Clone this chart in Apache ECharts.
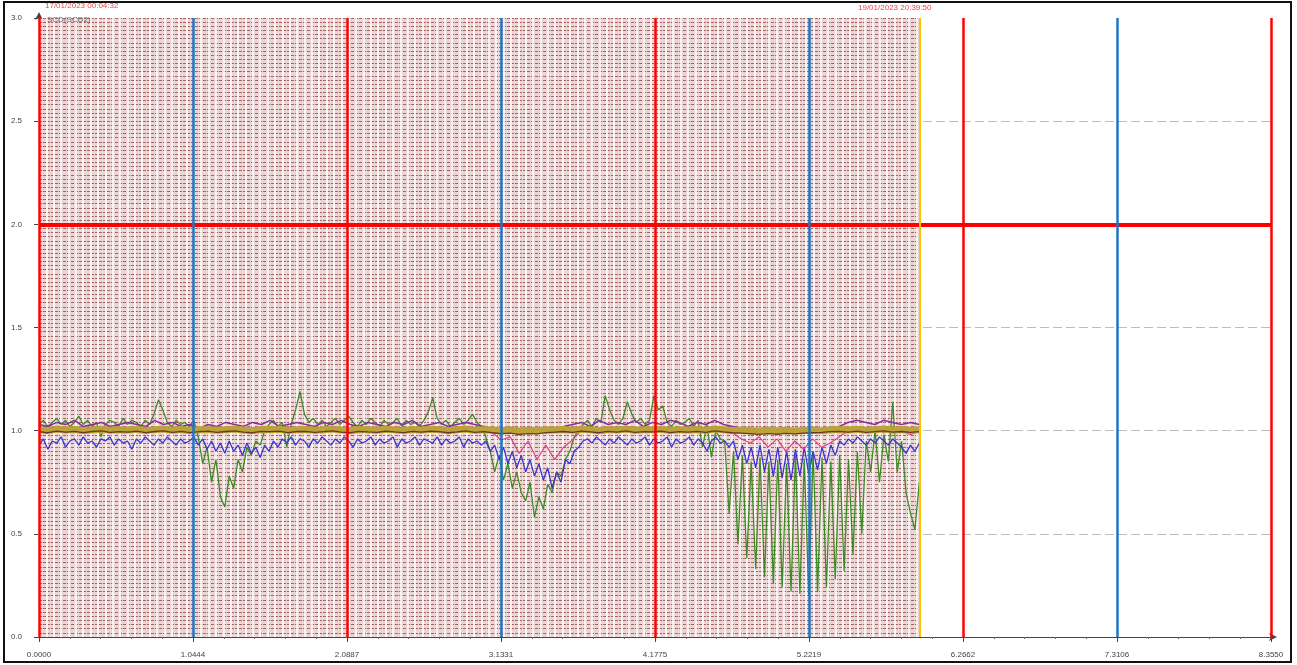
<!DOCTYPE html>
<html>
<head>
<meta charset="utf-8">
<script src="https://cdn.jsdelivr.net/npm/echarts@6/dist/echarts.min.js"></script>
<style>html,body{margin:0;padding:0;background:#fff;}#chart{width:1297px;height:665px;}</style>
</head>
<body>
<div id="chart"></div>
<script>
// ---------- data ----------
const xTickLabels = ['0.0000','1.0444','2.0887','3.1331','4.1775','5.2219','6.2662','7.3106','8.3550'];
const xMax = 8.355;
const yTickLabels = ['0.0','0.5','1.0','1.5','2.0','2.5','3.0'];
const redLinesX = [0, 2.0887, 4.1775, 6.2662, 8.355];
const blueLinesX = [1.0444, 3.1331, 5.2219, 7.3106];
const limitY = 2.0;
const shadeEnd = 5.973;
const startLabel = '17/01/2023 00:04:32';
const endLabel = '19/01/2023 20:39:50';
const traceLabel = 'SCD(SCD2)';

const fineStep = 0.03;     // sample spacing of green / blue traces
const coarseStep = 0.0603; // sample spacing of pink / purple / band traces

const greenVals = [
1.03,1.05,1.02,1.04,1.06,1.03,1.05,1.02,1.04,1.07,1.03,1.05,1.02,1.04,0.97,1.03,1.05,1.04,1.02,1.06,1.03,1.05,1.04,1.02,1.05,1.03,1.08,1.15,1.1,1.04,1.02,1.05,1.03,1.04,1.02,1.05,
0.97,0.84,0.92,0.75,0.86,0.68,0.63,0.78,0.72,0.86,0.8,0.92,0.88,0.95,0.93,1.0,
1.03,1.05,1.02,1.04,0.92,1.03,1.1,1.19,1.08,1.04,
1.06,1.03,1.05,1.02,1.04,1.06,1.03,1.05,1.07,1.04,
1.02,1.05,1.03,1.06,1.04,1.02,1.05,1.03,1.04,1.06,
1.02,1.05,1.03,1.04,1.02,1.05,1.09,1.16,1.06,1.03,
1.05,1.02,1.04,1.06,1.03,1.05,1.08,1.04,1.02,0.97,
0.9,0.8,0.88,0.76,0.84,0.72,0.8,0.7,0.66,0.75,0.58,0.68,0.62,0.74,0.7,0.8,0.78,0.86,0.9,0.97,1.0,
1.03,1.05,1.02,1.06,1.04,1.17,1.1,1.05,1.03,1.06,
1.14,1.08,1.04,1.06,1.03,1.05,1.17,1.1,1.12,1.04,
1.02,1.05,1.03,1.04,1.06,1.02,1.05,0.92,1.03,0.87,
1.0,0.96,
0.95,0.6,0.9,0.45,0.88,0.38,0.85,0.33,0.87,0.29,0.85,0.26,0.86,0.24,0.84,0.22,0.88,0.21,0.86,0.2,0.9,0.22,0.87,0.24,0.85,0.28,0.88,0.32,0.86,0.4,0.9,0.5,0.95,
0.8,1.0,0.75,0.98,0.85,1.14,0.8,0.95,0.7,0.6,0.52,0.75
];

const blueVals = [
0.93,0.96,0.91,0.95,0.94,0.97,0.92,0.95,0.96,0.93,0.97,0.94,0.95,0.92,0.96,0.95,0.97,0.93,0.96,0.94,0.95,0.91,0.96,0.94,0.97,0.95,0.93,0.96,0.94,0.97,0.95,0.93,0.96,0.94,0.95,0.97,
0.93,0.96,0.91,0.95,0.9,0.94,0.89,0.95,0.9,0.93,0.88,0.94,0.89,0.92,0.87,0.93,0.9,0.95,0.92,0.96,
0.94,0.97,0.93,0.96,0.95,0.92,0.96,0.94,0.97,0.95,0.93,0.96,0.94,0.97,0.95,0.92,0.96,0.94,0.95,0.97,0.93,0.96,0.94,0.95,0.97,0.92,0.96,0.94,0.95,0.97,0.93,0.96,0.95,0.94,0.97,0.93,0.96,0.94,0.95,0.97,0.92,0.96,0.94,0.95,
0.93,0.95,0.9,0.93,0.86,0.92,0.84,0.9,0.82,0.88,0.8,0.86,0.78,0.84,0.76,0.82,0.72,0.8,0.75,0.86,0.84,0.9,0.92,0.95,
0.96,0.94,0.97,0.95,0.93,0.96,0.94,0.97,0.95,0.93,0.96,0.94,0.95,0.97,0.93,0.96,0.94,0.95,0.97,0.92,0.96,0.94,0.95,0.97,0.93,0.96,0.94,0.9,0.95,0.97,0.94,
0.95,0.92,0.95,0.86,0.93,0.84,0.92,0.82,0.93,0.8,0.91,0.78,0.92,0.77,0.9,0.76,0.91,0.78,0.92,0.79,0.9,0.81,0.92,0.84,0.93,0.88,0.95,0.93,
0.96,0.94,0.97,0.95,0.93,0.96,0.94,0.97,0.95,0.93,0.96,0.94,0.92,0.89,0.93,0.9,0.94
];

const pinkVals = [
1.01,1.0,1.02,1.0,1.01,0.99,1.01,1.0,1.02,1.01,
1.0,1.01,0.99,1.01,1.0,1.02,1.0,1.01,0.99,1.0,
1.01,1.0,1.02,1.01,1.0,0.99,1.01,1.0,1.02,1.0,
1.01,0.99,1.0,1.02,1.01,1.0,1.01,0.99,1.0,1.02,
1.0,1.01,1.0,0.99,1.01,1.02,1.0,1.01,1.0,0.99,
1.0,0.99,0.955,0.97,0.89,0.95,0.86,0.93,0.86,0.92,0.955,1.0,
1.01,1.0,1.02,1.0,1.01,0.99,1.01,1.0,1.02,1.01,1.0,1.01,0.99,1.0,1.01,1.0,
0.99,0.96,0.94,0.97,0.92,0.96,0.9,0.95,0.91,0.96,0.92,0.94,0.97,1.0,
1.01,1.0,1.02,0.99,1.01,1.0,0.98,1.0
];

const purpleVals = [
1.03,1.02,1.04,1.03,1.05,1.02,1.03,1.04,1.02,1.03,
1.04,1.03,1.02,1.05,1.03,1.04,1.02,1.03,1.01,1.03,
1.02,1.04,1.03,1.02,1.04,1.03,1.05,1.02,1.03,1.04,
1.03,1.02,1.04,1.03,1.05,1.03,1.02,1.04,1.03,1.02,
1.04,1.03,1.05,1.02,1.03,1.04,1.02,1.03,1.04,1.03,
1.02,1.01,0.99,1.0,0.98,1.0,0.99,1.01,1.0,1.02,
1.03,1.04,1.02,1.05,1.03,1.04,1.03,1.05,1.02,1.04,
1.03,1.05,1.04,1.02,1.04,1.03,1.05,1.03,1.02,1.01,
1.0,0.99,1.01,0.98,1.0,0.99,1.01,0.99,1.0,1.01,
1.02,1.04,1.05,1.04,1.03,1.05,1.04,1.03,1.04,1.03
];

const oliveVals = [
1.005,1.0,1.008,1.003,1.006,1.0,1.004,1.007,1.002,1.005,
1.003,1.007,1.001,1.005,1.008,1.002,1.006,1.0,1.004,1.006,
1.002,1.005,1.008,1.003,1.0,1.006,1.004,1.007,1.001,1.005,
1.006,1.002,1.005,1.008,1.003,1.0,1.006,1.004,1.002,1.007,
1.004,1.001,1.006,1.003,1.007,1.005,1.0,1.004,1.008,1.002,
1.005,1.003,1.0,1.004,0.998,1.002,1.0,1.005,1.003,1.006,
1.002,1.007,1.004,1.0,1.006,1.003,1.008,1.002,1.005,1.004,
1.007,1.001,1.005,1.003,1.006,1.002,1.008,1.004,1.0,1.003,
1.001,0.999,1.003,1.0,1.002,0.998,1.001,1.003,1.0,1.004,
1.006,1.003,1.007,1.002,1.005,1.008,1.003,1.006,1.002,1.005
];

const brownVals = [
0.995,0.99,0.998,0.993,0.997,0.991,0.996,0.999,0.992,0.995,
0.993,0.998,0.99,0.996,0.999,0.992,0.997,0.991,0.995,0.998,
0.992,0.996,0.999,0.993,0.99,0.997,0.995,0.998,0.991,0.996,
0.997,0.992,0.995,0.999,0.993,0.99,0.997,0.994,0.992,0.998,
0.994,0.991,0.997,0.993,0.998,0.995,0.99,0.994,0.999,0.992,
0.995,0.99,0.985,0.988,0.982,0.986,0.984,0.99,0.993,0.996,
0.992,0.998,0.994,0.99,0.997,0.993,0.999,0.992,0.995,0.994,
0.998,0.991,0.995,0.993,0.997,0.992,0.999,0.994,0.99,0.988,
0.985,0.982,0.986,0.983,0.987,0.984,0.988,0.99,0.992,0.995,
0.997,0.993,0.998,0.992,0.995,0.999,0.993,0.996,0.992,0.995
];

// ---------- build ----------
function toPairs(vals, step) {
  return vals.map((v, i) => [+(i * step).toFixed(4), v]);
}
const xInterval = xMax / 8;
const font = 'Liberation Sans, Arial, sans-serif';
// keep reference lines strictly inside the axis extent so none is filtered away
const inX = x => Math.min(Math.max(x, 0.0005), xMax - 0.0005);
const vLine = (x, color, width) => [
  {coord: [inX(x), 0], lineStyle: {color, width, type: 'solid'}},
  {coord: [inX(x), 3]}
];

const chart = echarts.init(document.getElementById('chart'), null, {renderer: 'canvas'});

const lineSeries = (name, vals, step, color, width, z) => ({
  name, type: 'line', xAxisIndex: 0, yAxisIndex: 0,
  data: toPairs(vals, step), showSymbol: false, symbol: 'none',
  lineStyle: {color, width}, z: z, animation: false, silent: true
});

const option = {
  animation: false,
  backgroundColor: '#ffffff',
  grid: [
    {left: 39, right: 26, top: 18, bottom: 28, z: 0},
    {left: 39, top: 18, width: 881, height: 619, show: true, backgroundColor: '#ecd5d5', borderWidth: 0, z: 1}
  ],
  xAxis: [
    {
      type: 'value', gridIndex: 0, min: 0, max: xMax, interval: xInterval, z: 3,
      axisLine: {show: true, lineStyle: {color: '#444', width: 1}, symbol: ['none', 'arrow'], symbolSize: [6, 8], symbolOffset: [0, 6]},
      axisTick: {show: true, length: 5, lineStyle: {color: '#444'}},
      minorTick: {show: true, splitNumber: 5, length: 2, lineStyle: {color: '#666'}},
      axisLabel: {
        margin: 14, fontSize: 8, color: '#444', fontFamily: font,
        formatter: v => xTickLabels[Math.round(v / xInterval)] || ''
      },
      splitLine: {show: false}
    },
    {
      type: 'value', gridIndex: 1, min: 0, max: shadeEnd, interval: 0.05, z: 1,
      axisLine: {show: false}, axisTick: {show: false}, axisLabel: {show: false},
      splitLine: {show: true, lineStyle: {color: '#ffffff', width: 1.6}}
    }
  ],
  yAxis: [
    {
      type: 'value', gridIndex: 0, min: 0, max: 3, interval: 0.5, z: 0,
      axisLine: {show: true, lineStyle: {color: '#444', width: 1}, symbol: ['none', 'arrow'], symbolSize: [6, 8], symbolOffset: [0, 6]},
      axisTick: {show: true, length: 5, lineStyle: {color: '#444'}},
      axisLabel: {
        margin: 17, fontSize: 8, color: '#444', fontFamily: font,
        formatter: v => yTickLabels[Math.round(v / 0.5)] || ''
      },
      splitLine: {show: true, showMinLine: false, showMaxLine: false, lineStyle: {color: '#bdbdbd', width: 1.2, type: [9, 4]}}
    },
    {
      type: 'value', gridIndex: 1, min: 0, max: 3, interval: 0.02, z: 1,
      axisLine: {show: false}, axisTick: {show: false}, axisLabel: {show: false},
      splitLine: {show: true, lineStyle: {color: '#a86464', width: 1, type: [3, 1]}}
    }
  ],
  series: [
    lineSeries('green', greenVals, fineStep, '#3f8a26', 1.3, 2),
    lineSeries('blue', blueVals, fineStep, '#3a35d0', 1.3, 3),
    lineSeries('pink', pinkVals, coarseStep, '#dd3f86', 1.2, 3),
    lineSeries('purple', purpleVals, coarseStep, '#8e2aa0', 1.5, 4),
    lineSeries('olive', oliveVals, coarseStep, '#bca23a', 7, 4),
    lineSeries('brown', brownVals, coarseStep, '#6e3a1c', 1.3, 4),
    {
      name: 'refs', type: 'line', xAxisIndex: 0, yAxisIndex: 0, z: 6, clip: false,
      data: [[0, 3]], showSymbol: false, symbol: 'none', lineStyle: {opacity: 0}, silent: true,
      markLine: {
        silent: true, symbol: ['none', 'none'], label: {show: false}, animation: false,
        data: [
          {yAxis: limitY, lineStyle: {color: '#ff0000', width: 4, type: 'solid'}},
          ...redLinesX.map(x => vLine(x, '#ff0000', 2.5)),
          ...blueLinesX.map(x => vLine(x, '#1f74c4', 2.5)),
          vLine(shadeEnd, '#ffc000', 2)
        ]
      }
    }
  ],
  graphic: [
    {type: 'rect', z: 100, silent: true, shape: {x: 4, y: 2, width: 1287, height: 660},
     style: {fill: 'none', stroke: '#111', lineWidth: 2}},
    {type: 'text', z: 100, left: 45, top: 2, silent: true,
     style: {text: startLabel, fill: '#ff3b3b', font: '8px ' + font}},
    {type: 'text', z: 100, left: 858, top: 4, silent: true,
     style: {text: endLabel, fill: '#ff3b3b', font: '8px ' + font}},
    {type: 'text', z: 100, left: 47, top: 16, silent: true,
     style: {text: traceLabel, fill: '#666', font: '8px ' + font}}
  ]
};
chart.setOption(option);
</script>
</body>
</html>
